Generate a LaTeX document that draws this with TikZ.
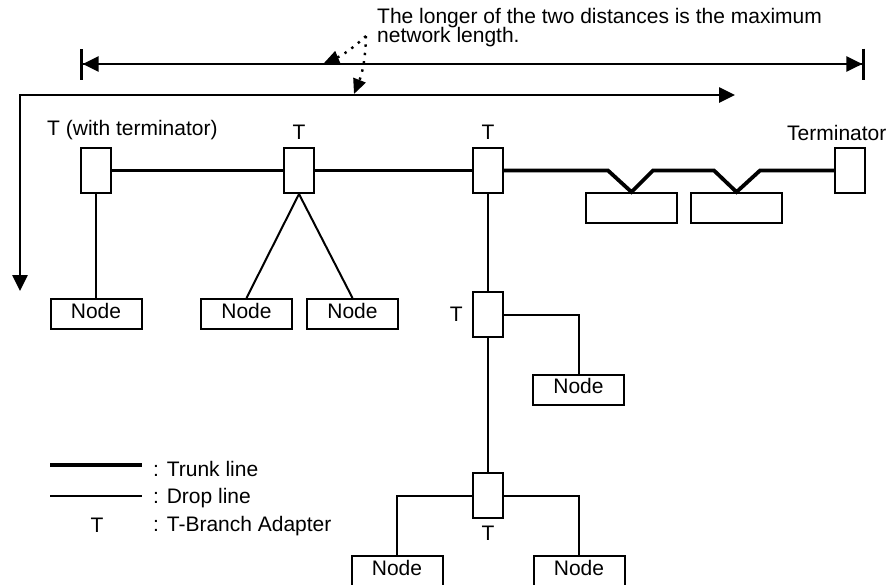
\documentclass[tikz,border=0pt]{standalone}
\usepackage{fontspec}
\setmainfont{Liberation Sans}
\usetikzlibrary{arrows.meta,positioning}
\tikzset{
  tbox/.style={draw, line width=2pt, minimum width=30pt, minimum height=45pt, inner sep=0pt},
  devbox/.style={draw, line width=2pt, minimum width=91pt, minimum height=30pt, inner sep=0pt,
    font=\fontsize{21}{21}\selectfont, text depth=7pt},
  lbl/.style={inner sep=0pt, font=\fontsize{21}{21}\selectfont},
  trunk/.style={line width=3.8pt},
  drop/.style={line width=2pt},
  dimline/.style={line width=2.6pt,
    {Bar[width=31pt,sep=0pt]Triangle[length=16pt,width=15pt,sep=0pt]}-{Triangle[length=16pt,width=15pt,sep=0pt]Bar[width=31pt,sep=0pt]}},
  runline/.style={line width=2.6pt, {Triangle[length=16pt,width=15pt]}-{Triangle[length=16pt,width=15pt]}},
  note/.style={line width=2.4pt, dash pattern=on 2.4pt off 6pt, -{Triangle[length=15pt,width=13pt]}}
}

\begin{document}
\begin{tikzpicture}[x=1pt, y=-1pt]
  \clip (0,0) rectangle (888,584);

  % T-branch adapters and terminator
  \node[tbox] (t1) at (95.5,170.5) {};
  \node[tbox] (t2) at (299,170.5) {};
  \node[tbox] (t3) at (488,170.5) {};
  \node[tbox] (term) at (850,170.5) {};
  \node[tbox] (t4) at (488,314.5) {};
  \node[tbox] (t5) at (488,495.5) {};

  % nodes and trunk taps
  \node[devbox] (n1) at (96,314) {Node};
  \node[devbox] (n2) at (246.5,314) {Node};
  \node[devbox] (n3) at (352.5,314) {Node};
  \node[devbox] (n4) at (578.5,389.5) {Node};
  \node[devbox] (n5) at (397,571) {Node};
  \node[devbox] (n6) at (579,571) {Node};
  \node[devbox] (dev1) at (631.5,208) {};
  \node[devbox] (dev2) at (736.5,208) {};

  % labels
  \node[lbl, anchor=base west] (t1lbl) at (47,135) {T (with terminator)};
  \node[lbl, above=7pt of t2] (t2lbl) {T};
  \node[lbl, above=7pt of t3] (t3lbl) {T};
  \node[lbl, anchor=base west] (termlbl) at (787,140) {Terminator};
  \node[lbl, left=9pt of t4] (t4lbl) {T};
  \node[lbl, below=7pt of t5] (t5lbl) {T};

  % trunk line
  \draw[trunk] (t1) -- (t2);
  \draw[trunk] (t2) -- (t3);
  \draw[trunk] (t3.east) -- (608,170.5) -- (dev1.north) -- (653,170.5) -- (714,170.5)
    -- (dev2.north) -- (760,170.5) -- (term.west);

  % drop lines
  \draw[drop] (t1.south) -- (t1.south |- n1.north);
  \draw[drop] (t2.south) -- (n2.north);
  \draw[drop] (t2.south) -- (n3.north);
  \draw[drop] (t3) -- (t4);
  \draw[drop] (t4) -- (t5);
  \draw[drop] (t4.east) -| (n4.north);
  \draw[drop] (t5.west) -| (n5.north);
  \draw[drop] (t5.east) -| (n6.north);

  % distances
  \coordinate (dimL) at (80,64);
  \coordinate (dimR) at (865,64);
  \draw[dimline] (dimL) -- (dimR);
  \coordinate (runTip) at (20,291);
  \coordinate (runCorner) at (20,95);
  \coordinate (runEnd) at (735,95);
  \draw[runline] (runTip) -- (runCorner) -- (runEnd);

  % note
  \node[lbl, anchor=north west, align=left,
    font={\fontsize{21}{19.5}\selectfont\lineskiplimit=-30pt}] (note) at (377,7.6)
    {The longer of the two distances is the maximum\\network length.};
  \coordinate (callout) at (366,36);
  \coordinate (hitA) at (324,63);
  \coordinate (hitB) at (354,94);
  \draw[note] (callout) to[bend left=10] (hitA);
  \draw[note] (callout) to[bend left=10] (hitB);

  % legend
  \draw[trunk] (50,465) -- (142,465);
  \draw[drop] (50,496) -- (142,496);
  \node[lbl, anchor=base] (keytsym) at (97,532) {T};
  \node[lbl, anchor=base west] (keytrunk) at (153,476) {: Trunk line};
  \node[lbl, anchor=base west] (keydrop) at (153,503) {: Drop line};
  \node[lbl, anchor=base west] (keyt) at (153,531) {: T-Branch Adapter};
\end{tikzpicture}
\end{document}
